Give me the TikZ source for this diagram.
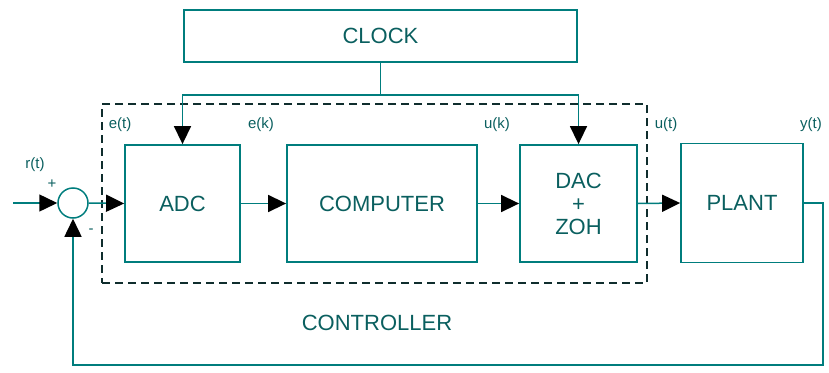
\documentclass[tikz,border=0pt]{standalone}
\usepackage{fontspec}
\setmainfont{Liberation Sans}
\usetikzlibrary{arrows.meta}
\definecolor{wire}{RGB}{0,125,125}
\definecolor{ink}{RGB}{10,95,95}
\tikzset{
	blk/.style={draw=wire,line width=1.8pt,rectangle,inner sep=0pt,text=ink,font=\fontsize{22}{25}\selectfont},
	sig/.style={text=ink,font=\fontsize{15}{17}\selectfont},
	lnk/.style={draw=wire,line width=1.5pt},
	arr/.style={lnk,-{Triangle[length=18pt,width=17pt,color=black]}}
}
\begin{document}
\begin{tikzpicture}[x=1pt,y=-1pt]
			\useasboundingbox (0,0) rectangle (829,372);
			
			\node[blk,minimum width=393pt,minimum height=52pt] (clock) at (380.5,36) {CLOCK};
			\node[blk,minimum width=115pt,minimum height=117pt] (adc) at (182.5,203.5) {ADC};
			\node[blk,minimum width=190pt,minimum height=117pt] (comp) at (382,203.5) {COMPUTER};
			\node[blk,minimum width=117pt,minimum height=117pt,align=center] (dac) at (578.5,203.5) {DAC\\[-2pt]+\\[-2pt]ZOH};
			\node[blk,minimum width=122pt,minimum height=119pt] (plant) at (742,203) {PLANT};
			\node[draw=wire,line width=1.5pt,circle,minimum size=30pt,inner sep=0pt] (sum) at (73,203) {};
			\node[draw={rgb,255:red,15;green,45;blue,45},line width=2.5pt,dash pattern=on 8pt off 5pt,minimum width=545pt,minimum height=179pt] (ctrl) at (374.5,193.5) {};
			
			\coordinate (in) at (13,203);
			\coordinate (split) at (380.5,95);
			\coordinate (fb) at (823,365);
			
			\draw[lnk] (clock.south) -- (split);
			\draw[arr] (split) -| (adc.north);
			\draw[arr] (split) -| (dac.north);
			\draw[arr] (in) -- (sum.west);
			\draw[arr] (sum.east) -- (adc.west);
			\draw[arr] (adc.east) -- (comp.west);
			\draw[arr] (comp.east) -- (dac.west);
			\draw[arr] (dac.east) -- (plant.west);
			\draw[arr] (plant.east) -| (fb) -| (sum.south);
			
			\node[sig] (rt) at (35,165) {r(t)};
			\node[sig] (plus) at (52,184) {+};
			\node[sig] (minus) at (91,231) {-};
			\node[sig] (et) at (120,125) {e(t)};
			\node[sig] (ek) at (261,125) {e(k)};
			\node[sig] (uk) at (497,125) {u(k)};
			\node[sig] (ut) at (666,125) {u(t)};
			\node[sig] (yt) at (811,125) {y(t)};
			\node[text=ink,font=\fontsize{22}{25}\selectfont] (ctrlname) at (377,323) {CONTROLLER};
		\end{tikzpicture}
\end{document}
